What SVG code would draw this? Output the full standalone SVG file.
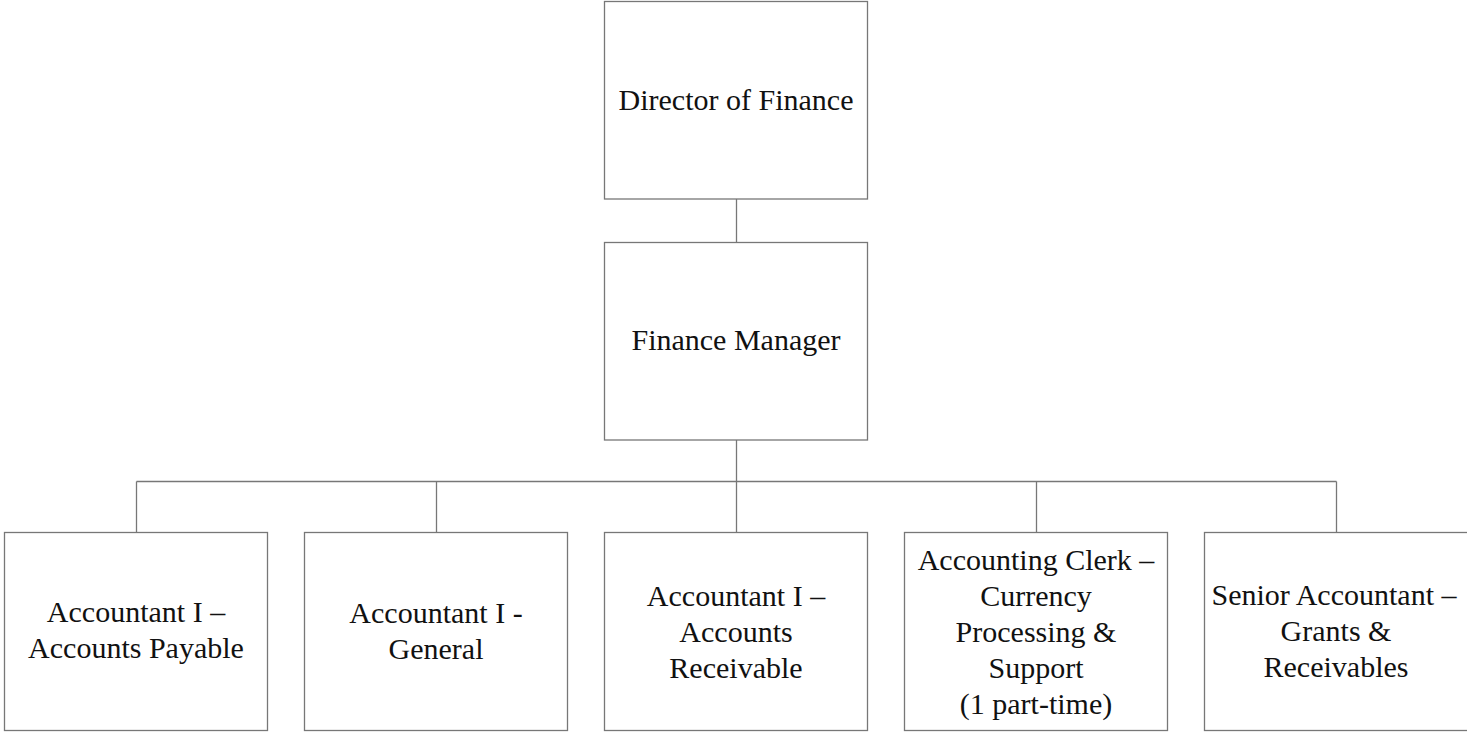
<svg xmlns="http://www.w3.org/2000/svg" width="1467" height="732" viewBox="0 0 1467 732">
  <style>
    .box { fill: #ffffff; stroke: #777777; stroke-width: 1.3; }
    .link { fill: none; stroke: #777777; stroke-width: 1.3; }
    .label { font-family: "Liberation Serif", "Times New Roman", serif; font-size: 30px; fill: #111111; text-anchor: middle; }
  </style>
  <rect width="1467" height="732" fill="#ffffff"/>

  <!-- reporting lines -->
  <g id="connectors">
    <path class="link" d="M736.5 199 V242.5"/>
    <path class="link" d="M736.5 440 V532.5"/>
    <path class="link" d="M136.5 481.5 H1336.5"/>
    <path class="link" d="M136.5 481.5 V532.5"/>
    <path class="link" d="M436.5 481.5 V532.5"/>
    <path class="link" d="M1036.5 481.5 V532.5"/>
    <path class="link" d="M1336.5 481.5 V532.5"/>
  </g>

  <g id="director">
    <rect class="box" x="604.5" y="1.5" width="263" height="197.5"/>
    <text class="label" x="736" y="110">Director of Finance</text>
  </g>

  <g id="finance-manager">
    <rect class="box" x="604.5" y="242.5" width="263" height="197.5"/>
    <text class="label" x="736" y="350">Finance Manager</text>
  </g>

  <g id="accounts-payable">
    <rect class="box" x="4.5" y="532.5" width="263" height="198"/>
    <text class="label" x="136" y="622">Accountant I –</text>
    <text class="label" x="136" y="658">Accounts Payable</text>
  </g>

  <g id="general">
    <rect class="box" x="304.5" y="532.5" width="263" height="198"/>
    <text class="label" x="436" y="623">Accountant I -</text>
    <text class="label" x="436" y="659">General</text>
  </g>

  <g id="accounts-receivable">
    <rect class="box" x="604.5" y="532.5" width="263" height="198"/>
    <text class="label" x="736" y="606">Accountant I –</text>
    <text class="label" x="736" y="642">Accounts</text>
    <text class="label" x="736" y="678">Receivable</text>
  </g>

  <g id="accounting-clerk">
    <rect class="box" x="904.5" y="532.5" width="263" height="198"/>
    <text class="label" x="1036" y="570">Accounting Clerk –</text>
    <text class="label" x="1036" y="606">Currency</text>
    <text class="label" x="1036" y="642">Processing &amp;</text>
    <text class="label" x="1036" y="678">Support</text>
    <text class="label" x="1036" y="714">(1 part-time)</text>
  </g>

  <!-- right edge runs past the canvas -->
  <g id="senior-accountant">
    <rect class="box" x="1204.5" y="532.5" width="266" height="198"/>
    <text class="label" x="1334" y="605">Senior Accountant –</text>
    <text class="label" x="1336" y="641">Grants &amp;</text>
    <text class="label" x="1336" y="677">Receivables</text>
  </g>
</svg>
